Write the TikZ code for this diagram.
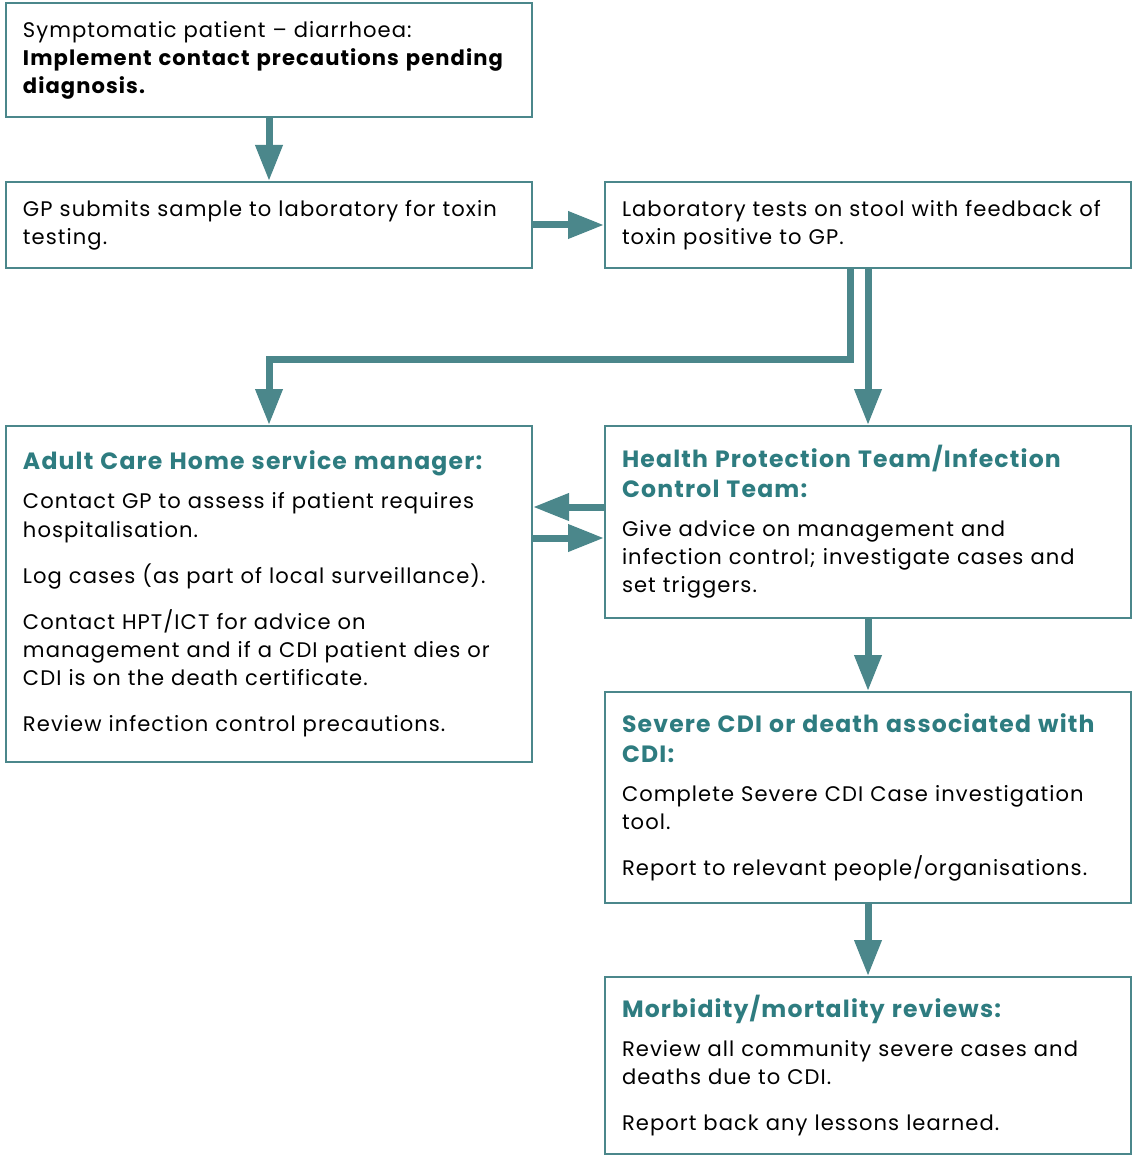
\documentclass[tikz,border=0pt]{standalone}
\usepackage{fontspec}
\setmainfont[LetterSpace=5]{Poppins}
\usetikzlibrary{arrows.meta}

\definecolor{boxteal}{HTML}{4B878B}
\definecolor{headteal}{HTML}{2E7C80}
\newcommand{\boxhead}[1]{{\color{headteal}\fontsize{13.4}{17}\selectfont\bfseries #1\par}\vspace{0.22cm}}
\newcommand{\pgap}{\par\vspace{0.36cm}}

\begin{document}
\begin{tikzpicture}

      \useasboundingbox (0,0) rectangle (22.64,-23.10);

      \begin{scope}[every node/.style={draw=boxteal,line width=0.04cm,anchor=north west,
          align=left,text width=9.84cm,inner xsep=0.34cm,inner ysep=0.1cm,
          font=\fontsize{12}{16}\selectfont}]
        \node[minimum height=2.28cm] (1) at (0.10,-0.04)
          {Symptomatic patient -- diarrhoea:\\
           \textbf{Implement contact precautions pending\\ diagnosis.}};
        \node[minimum height=1.72cm] (2) at (0.10,-3.62)
          {GP submits sample to laboratory for toxin\\ testing.};
        \node[minimum height=1.72cm] (3) at (12.08,-3.62)
          {Laboratory tests on stool with feedback of\\ toxin positive to GP.};
        \node[minimum height=6.72cm] (4) at (0.10,-8.50)
          {\boxhead{Adult Care Home service manager:}
           Contact GP to assess if patient requires\\ hospitalisation.\pgap
           Log cases (as part of local surveillance).\pgap
           Contact HPT/ICT for advice on\\ management and if a CDI patient dies or\\
           CDI is on the death certificate.\pgap
           Review infection control precautions.};
        \node[minimum height=3.84cm] (5) at (12.08,-8.50)
          {\boxhead{Health Protection Team/Infection\\ Control Team:}
           Give advice on management and\\ infection control; investigate cases and\\
           set triggers.};
        \node[minimum height=4.22cm] (6) at (12.08,-13.82)
          {\boxhead{Severe CDI or death associated with\\ CDI:}
           Complete Severe CDI Case investigation\\ tool.\pgap
           Report to relevant people/organisations.};
        \node[minimum height=3.54cm] (7) at (12.08,-19.52)
          {\boxhead{Morbidity/mortality reviews:}
           Review all community severe cases and\\ deaths due to CDI.\pgap
           Report back any lessons learned.};
      \end{scope}

      \begin{scope}[every edge/.style={draw=boxteal,line width=0.14cm,
          -{Triangle[width=0.52cm,length=0.72cm]}}]
        \path (1) edge (2);
        \path (2) edge (3);
        \path (3) edge (5);
        \path (5) edge (6);
        \path (6) edge (7);
      \end{scope}

      \begin{scope}[draw=boxteal,line width=0.14cm,
          -{Triangle[width=0.52cm,length=0.72cm]}]
        \draw ([xshift=-0.36cm]3.south) -- ++(0,-1.80) -| (4.north);
        \draw ([yshift=0.30cm]5.west) -- ([yshift=0.30cm]5.west -| 4.east);
        \draw ([yshift=-0.32cm]5.west -| 4.east) -- ([yshift=-0.32cm]5.west);
      \end{scope}

    \end{tikzpicture}
\end{document}
